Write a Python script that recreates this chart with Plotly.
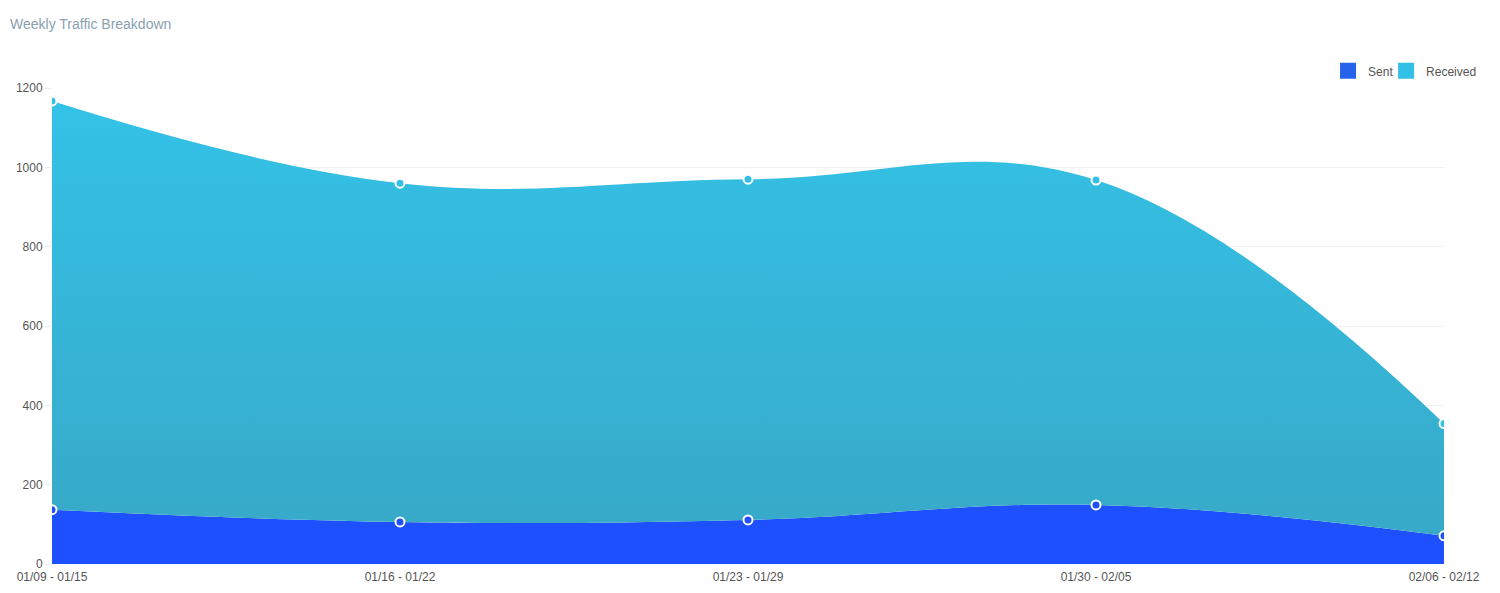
import plotly.graph_objects as go

categories = ["01/09 - 01/15", "01/16 - 01/22", "01/23 - 01/29", "01/30 - 02/05", "02/06 - 02/12"]
sent = [137, 106, 111, 149, 71]
received = [1030, 854, 859, 819, 283]
y_ticks = [0, 200, 400, 600, 800, 1000, 1200]

fig = go.Figure()
fig.add_trace(go.Scatter(
    x=categories, y=sent, name="Sent", stackgroup="one", showlegend=False,
    mode="lines+markers",
    line=dict(shape="spline", smoothing=1.15, width=0, color="#1E50FF"),
    fillcolor="#1E50FF",
    marker=dict(size=9, color="#1E50FF", line=dict(color="white", width=2)),
))
fig.add_trace(go.Scatter(
    x=categories, y=received, name="Received", stackgroup="one", showlegend=False,
    mode="lines+markers",
    line=dict(shape="spline", smoothing=1.15, width=0, color="#33C0E6"),
    fillgradient=dict(type="vertical", colorscale=[[0, "#38A9C8"], [1, "#33C2E7"]]),
    marker=dict(size=9, color="#33C0E6", line=dict(color="white", width=2)),
))
# legend swatches (square)
fig.add_trace(go.Scatter(x=[None], y=[None], name="Sent", mode="markers", legend="legend",
                         marker=dict(symbol="square", size=16, color="#2563EB", line=dict(width=0))))
fig.add_trace(go.Scatter(x=[None], y=[None], name="Received", mode="markers", legend="legend2",
                         marker=dict(symbol="square", size=16, color="#33C0E6", line=dict(width=0))))

# page body adds an 8px offset; figure sized to compensate
W, H = 1492, 585
leg_common = dict(orientation="h", xanchor="left", y=1.036, yanchor="middle",
                  font=dict(size=12, color="#555"), itemwidth=30, bgcolor="rgba(0,0,0,0)")
fig.update_layout(
    width=W, height=H,
    paper_bgcolor="white", plot_bgcolor="white",
    font=dict(family="Liberation Sans, Arial, sans-serif", size=12, color="#555"),
    title=dict(text="Weekly Traffic Breakdown", x=2 / W, xanchor="left", y=1 - 16 / H, yanchor="middle",
               font=dict(size=14, color="#8AA0B0")),
    margin=dict(l=44, r=56, t=80, b=29),
    showlegend=True,
    legend=dict(x=0.9167, **leg_common),
    legend2=dict(x=0.9584, **leg_common),
)
fig.update_xaxes(type="category", range=[0, 4], showgrid=False, zeroline=False, automargin=False,
                 showline=False, ticks="", ticklabelstandoff=4, tickfont=dict(size=12, color="#555"))
fig.update_yaxes(range=[0, 1200], tickvals=y_ticks, gridcolor="#EEF1F5", zeroline=False, automargin=False,
                 showline=False, ticks="outside", ticklen=6, tickcolor="#E6EAF0",
                 tickfont=dict(size=12, color="#555"))

fig.write_html("out.html")
